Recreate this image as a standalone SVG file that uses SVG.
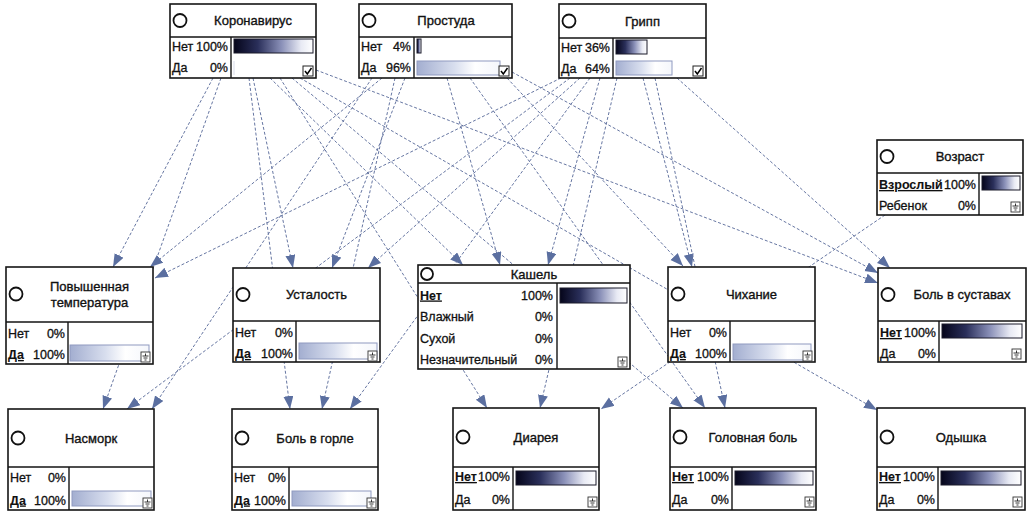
<svg xmlns="http://www.w3.org/2000/svg" xmlns:xlink="http://www.w3.org/1999/xlink" width="1032" height="518" viewBox="0 0 1032 518">
<defs>
<style>
.box{fill:#fff;stroke:#151515;stroke-width:1.6}
.dv{stroke:#151515;stroke-width:1.4;fill:none}
.ring{fill:none;stroke:#111;stroke-width:1.8}
.t{font-family:"Liberation Sans",Arial,sans-serif;font-size:13px;fill:#111;stroke:#111;stroke-width:0.35}
.s{font-family:"Liberation Sans",Arial,sans-serif;font-size:12.5px;fill:#111;stroke:#111;stroke-width:0.3}
.e{text-anchor:end}
.m{text-anchor:middle}
.sel{font-weight:bold;text-decoration:underline;stroke-width:0.1}
.dark{fill:url(#gd);stroke:#1a1a2a;stroke-width:1}
.light{fill:url(#gl);stroke:#8f9ac0;stroke-width:1}
.edge{stroke:#6676a2;stroke-width:1;stroke-dasharray:3 2;fill:none;marker-end:url(#arr)}
</style>
<linearGradient id="gd" x1="0" y1="0" x2="1" y2="0">
<stop offset="0" stop-color="#05051a"/>
<stop offset="0.3" stop-color="#2a2f5a"/>
<stop offset="0.6" stop-color="#8a90b8"/>
<stop offset="0.85" stop-color="#e8eaf4"/>
<stop offset="1" stop-color="#ffffff"/>
</linearGradient>
<linearGradient id="gl" x1="0" y1="0" x2="1" y2="0">
<stop offset="0" stop-color="#a3aed0"/>
<stop offset="0.45" stop-color="#d8deee"/>
<stop offset="0.7" stop-color="#ffffff"/>
<stop offset="1" stop-color="#f4f6fb"/>
</linearGradient>
<marker id="arr" markerUnits="userSpaceOnUse" markerWidth="14" markerHeight="11" refX="13" refY="5" orient="auto">
<path d="M0,0 L13,5 L0,10 z" fill="#5b6fa0"/>
</marker>
<g id="chk"><rect x="0" y="0" width="10" height="10" fill="#fff" stroke="#222" stroke-width="1"/><path d="M2,5 L4.3,8 L8.5,2" fill="none" stroke="#000" stroke-width="1.5"/></g>
<g id="gnd"><rect x="0" y="0" width="9" height="10" fill="#fff" stroke="#333" stroke-width="0.9"/><path d="M4.5,1.5 V4 M1.5,4 H7.5 M2.5,6 H6.5 M3.5,8 H5.5" stroke="#222" stroke-width="0.9"/></g>
</defs>
<rect width="1032" height="518" fill="#fff"/>

<g id="connectors">
<path class="edge" d="M213,78 L113,267"/>
<path class="edge" d="M221,78 L103,409"/>
<path class="edge" d="M253,78 L293,268"/>
<path class="edge" d="M249,78 L290,409"/>
<path class="edge" d="M270,78 L463,265"/>
<path class="edge" d="M280,78 L487,408"/>
<path class="edge" d="M292,78 L683,408"/>
<path class="edge" d="M300,78 L877,410"/>
<path class="edge" d="M316,70 L878,283"/>
<path class="edge" d="M382,78 L150,267"/>
<path class="edge" d="M372,78 L152,409"/>
<path class="edge" d="M405,78 L332,268"/>
<path class="edge" d="M395,78 L322,409"/>
<path class="edge" d="M447,78 L500,265"/>
<path class="edge" d="M507,78 L683,266"/>
<path class="edge" d="M470,78 L705,408"/>
<path class="edge" d="M512,72 L878,273"/>
<path class="edge" d="M561,78 L155,278"/>
<path class="edge" d="M570,78 L127,409"/>
<path class="edge" d="M580,78 L368,268"/>
<path class="edge" d="M590,78 L350,409"/>
<path class="edge" d="M600,78 L548,265"/>
<path class="edge" d="M617,78 L540,408"/>
<path class="edge" d="M643,78 L692,267"/>
<path class="edge" d="M655,78 L725,408"/>
<path class="edge" d="M677,78 L890,268"/>
<path class="edge" d="M885,215 L601,409"/>
</g>

<g id="koronavirus">
<rect class="box" x="170" y="4" width="146" height="74"/>
<path class="dv" d="M170,37 H316 M231,37 V78"/>
<circle class="ring" cx="180" cy="20.5" r="6.5"/>
<text class="t m" x="253" y="25">Коронавирус</text>
<text class="s" x="172" y="51">Нет</text><text class="s e" x="228" y="51">100%</text>
<text class="s" x="172" y="72">Да</text><text class="s e" x="228" y="72">0%</text>
<rect class="dark" x="234" y="39" width="79" height="14"/>
<line x1="234" y1="61" x2="234" y2="75" stroke="#d8dcea" stroke-width="1"/>
<use xlink:href="#chk" x="303" y="66"/>
</g>

<g id="prostuda">
<rect class="box" x="359" y="4" width="153" height="74"/>
<path class="dv" d="M359,37 H512 M414,37 V78"/>
<circle class="ring" cx="369" cy="20.5" r="6.5"/>
<text class="t m" x="446" y="25">Простуда</text>
<text class="s" x="361" y="51">Нет</text><text class="s e" x="411" y="51">4%</text>
<text class="s" x="361" y="72">Да</text><text class="s e" x="411" y="72">96%</text>
<rect class="dark" x="417" y="39" width="4" height="14"/>
<rect class="light" x="417" y="61" width="83" height="14"/>
<use xlink:href="#chk" x="499" y="66"/>
</g>

<g id="gripp">
<rect class="box" x="559" y="4" width="147" height="74"/>
<path class="dv" d="M559,38 H706 M613,38 V78"/>
<circle class="ring" cx="569" cy="21" r="6.5"/>
<text class="t m" x="642.5" y="25.5">Грипп</text>
<text class="s" x="561" y="52">Нет</text><text class="s e" x="610" y="52">36%</text>
<text class="s" x="561" y="73">Да</text><text class="s e" x="610" y="73">64%</text>
<rect class="dark" x="616" y="40" width="31" height="14"/>
<rect class="light" x="616" y="61" width="56" height="14"/>
<use xlink:href="#chk" x="693" y="66"/>
</g>

<g id="vozrast">
<rect class="box" x="877" y="140" width="146" height="75"/>
<path class="dv" d="M877,173 H1023 M979,173 V215"/>
<circle class="ring" cx="887" cy="156.5" r="6.5"/>
<text class="t m" x="960" y="161">Возраст</text>
<text class="s sel" x="879" y="189">Взрослый</text><text class="s e" x="976" y="189">100%</text>
<text class="s" x="879" y="210">Ребенок</text><text class="s e" x="976" y="210">0%</text>
<rect class="dark" x="982" y="176" width="38" height="14"/>
<use xlink:href="#gnd" x="1011" y="202"/>
</g>

<g id="temperatura">
<rect class="box" x="6" y="267" width="147" height="97"/>
<path class="dv" d="M6,322 H153 M68,322 V364"/>
<circle class="ring" cx="16" cy="294" r="6.5"/>
<text class="t m" x="89.5" y="291">Повышенная</text>
<text class="t m" x="89.5" y="307">температура</text>
<text class="s" x="8" y="338">Нет</text><text class="s e" x="65" y="338">0%</text>
<text class="s sel" x="8" y="359">Да</text><text class="s e" x="65" y="359">100%</text>
<rect class="light" x="70" y="345" width="79" height="16"/>
<use xlink:href="#gnd" x="141" y="352"/>
</g>

<g id="ustalost">
<rect class="box" x="233" y="268" width="147" height="94"/>
<path class="dv" d="M233,321 H380 M296,321 V362"/>
<circle class="ring" cx="243" cy="294.5" r="6.5"/>
<text class="t m" x="316.5" y="299">Усталость</text>
<text class="s" x="235" y="337">Нет</text><text class="s e" x="293" y="337">0%</text>
<text class="s sel" x="235" y="358">Да</text><text class="s e" x="293" y="358">100%</text>
<rect class="light" x="299" y="343" width="78" height="16"/>
<use xlink:href="#gnd" x="368" y="351"/>
</g>

<g id="kashel">
<rect class="box" x="418" y="265" width="212" height="104"/>
<path class="dv" d="M418,283 H630 M557,283 V369"/>
<circle class="ring" cx="427" cy="274" r="6"/>
<text class="t m" x="534" y="278.5">Кашель</text>
<text class="s sel" x="420" y="299.5">Нет</text><text class="s e" x="553" y="299.5">100%</text>
<text class="s" x="420" y="321">Влажный</text><text class="s e" x="553" y="321">0%</text>
<text class="s" x="420" y="342.5">Сухой</text><text class="s e" x="553" y="342.5">0%</text>
<text class="s" x="420" y="364">Незначительный</text><text class="s e" x="553" y="364">0%</text>
<rect class="dark" x="560" y="288" width="67" height="15"/>
<use xlink:href="#gnd" x="618" y="357"/>
</g>

<g id="chihanie">
<rect class="box" x="668" y="267" width="147" height="95"/>
<path class="dv" d="M668,321 H815 M730,321 V362"/>
<circle class="ring" cx="678" cy="294" r="6.5"/>
<text class="t m" x="751.5" y="299">Чихание</text>
<text class="s" x="670" y="337">Нет</text><text class="s e" x="727" y="337">0%</text>
<text class="s sel" x="670" y="358">Да</text><text class="s e" x="727" y="358">100%</text>
<rect class="light" x="733" y="344" width="78" height="16"/>
<use xlink:href="#gnd" x="803" y="351"/>
</g>

<g id="bol-v-sustavah">
<rect class="box" x="878" y="268" width="148" height="94"/>
<path class="dv" d="M878,321 H1026 M939,321 V362"/>
<circle class="ring" cx="888" cy="294.5" r="6.5"/>
<text class="t m" x="962" y="299">Боль в суставах</text>
<text class="s sel" x="880" y="337">Нет</text><text class="s e" x="936" y="337">100%</text>
<text class="s" x="880" y="358">Да</text><text class="s e" x="936" y="358">0%</text>
<rect class="dark" x="942" y="324" width="80" height="14"/>
<use xlink:href="#gnd" x="1012" y="349"/>
</g>

<g id="nasmork">
<rect class="box" x="8" y="409" width="146" height="101"/>
<path class="dv" d="M8,467 H154 M69,467 V510"/>
<circle class="ring" cx="18" cy="438" r="6.5"/>
<text class="t m" x="91" y="443">Насморк</text>
<text class="s" x="10" y="481.5">Нет</text><text class="s e" x="66" y="481.5">0%</text>
<text class="s sel" x="10" y="504.5">Да</text><text class="s e" x="66" y="504.5">100%</text>
<rect class="light" x="72" y="491" width="79" height="15"/>
<use xlink:href="#gnd" x="143" y="498"/>
</g>

<g id="bol-v-gorle">
<rect class="box" x="232" y="409" width="146" height="101"/>
<path class="dv" d="M232,467 H378 M289,467 V510"/>
<circle class="ring" cx="242" cy="438" r="6.5"/>
<text class="t m" x="315" y="443">Боль в горле</text>
<text class="s" x="234" y="481.5">Нет</text><text class="s e" x="286" y="481.5">0%</text>
<text class="s sel" x="234" y="504.5">Да</text><text class="s e" x="286" y="504.5">100%</text>
<rect class="light" x="292" y="491" width="79" height="15"/>
<use xlink:href="#gnd" x="367" y="498"/>
</g>

<g id="diareya">
<rect class="box" x="453" y="408" width="146" height="102"/>
<path class="dv" d="M453,467 H599 M513,467 V510"/>
<circle class="ring" cx="463" cy="437" r="6.5"/>
<text class="t m" x="536" y="442">Диарея</text>
<text class="s sel" x="455" y="481">Нет</text><text class="s e" x="510" y="481">100%</text>
<text class="s" x="455" y="504">Да</text><text class="s e" x="510" y="504">0%</text>
<rect class="dark" x="516" y="471" width="80" height="14"/>
<use xlink:href="#gnd" x="588" y="497"/>
</g>

<g id="golovnaya-bol">
<rect class="box" x="670" y="408" width="146" height="102"/>
<path class="dv" d="M670,467 H816 M732,467 V510"/>
<circle class="ring" cx="680" cy="437" r="6.5"/>
<text class="t m" x="753" y="442">Головная боль</text>
<text class="s sel" x="672" y="481">Нет</text><text class="s e" x="729" y="481">100%</text>
<text class="s" x="672" y="504">Да</text><text class="s e" x="729" y="504">0%</text>
<rect class="dark" x="735" y="471" width="78" height="14"/>
<use xlink:href="#gnd" x="805" y="497"/>
</g>

<g id="odyshka">
<rect class="box" x="877" y="408" width="148" height="102"/>
<path class="dv" d="M877,467 H1025 M938,467 V510"/>
<circle class="ring" cx="887" cy="437" r="6.5"/>
<text class="t m" x="961" y="442">Одышка</text>
<text class="s sel" x="879" y="481">Нет</text><text class="s e" x="935" y="481">100%</text>
<text class="s" x="879" y="504">Да</text><text class="s e" x="935" y="504">0%</text>
<rect class="dark" x="941" y="471" width="80" height="14"/>
<use xlink:href="#gnd" x="1013" y="497"/>
</g>
</svg>
